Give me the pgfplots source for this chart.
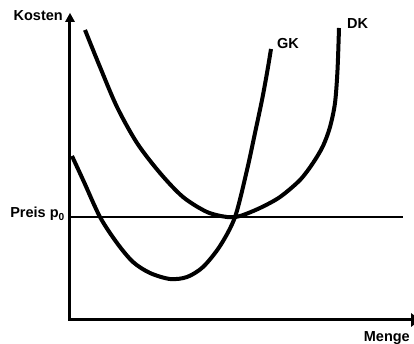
\documentclass[border=0pt]{standalone}
\usepackage{fontspec}
\setmainfont{Liberation Sans}
\usepackage{pgfplots}
\pgfplotsset{compat=1.18}
\tikzset{lbl/.style={inner sep=0pt, font=\fontsize{14.5}{16}\selectfont\bfseries}}
\begin{document}
\begin{tikzpicture}
  \begin{axis}[
      x=1pt, y=1pt,
      xmin=0, xmax=344, ymin=0, ymax=307,
      hide axis,
      clip=false,
    ]
    % axes with arrow heads
    \draw[line width=3pt, line join=miter]
      (axis cs:0,300) -- (axis cs:0,0) -- (axis cs:342,0);
    \fill (axis cs:-5,298) -- (axis cs:0,307) -- (axis cs:5,298) -- cycle;
    \fill (axis cs:341,-7) -- (axis cs:350,0) -- (axis cs:341,7) -- cycle;
    % Preis p0
    \addplot[line width=2.6pt, black] coordinates {(0,103) (333,103)};
    % GK (Grenzkosten)
    \addplot[line width=4pt, black, smooth] coordinates {
        (2,164) (14,138) (30,103) (47,77) (63,58) (80,47) (100,41)
        (117,43) (133,53) (150,74) (165,103) (177,150) (185,187)
        (192,220) (197,247) (201,271)
      };
    % DK (Durchschnittskosten)
    \addplot[line width=4pt, black, smooth] coordinates {
        (15,290) (30,253) (47,213) (67,177) (90,147) (113,123) (137,108)
        (157,103) (170,104) (190,112) (210,123) (230,140) (243,157)
        (253,174) (260,193) (265,217) (267.5,250) (269,292)
      };
    \node[lbl, anchor=base east] at (axis cs:-7,299) {Kosten};
    \node[lbl, anchor=base east] at (axis cs:-5,102) {Preis p\textsubscript{0}};
    \node[lbl, anchor=base east] at (axis cs:340,-21.7) {Menge};
    \node[lbl, anchor=base west] at (axis cs:207,271.7) {GK};
    \node[lbl, anchor=base west] at (axis cs:277,291.7) {DK};
    \coordinate (bl) at (axis cs:-70,-24);
    \coordinate (tr) at (axis cs:344,320);
  \end{axis}
  \pgfresetboundingbox
  \path (bl) rectangle (tr);
\end{tikzpicture}
\end{document}
